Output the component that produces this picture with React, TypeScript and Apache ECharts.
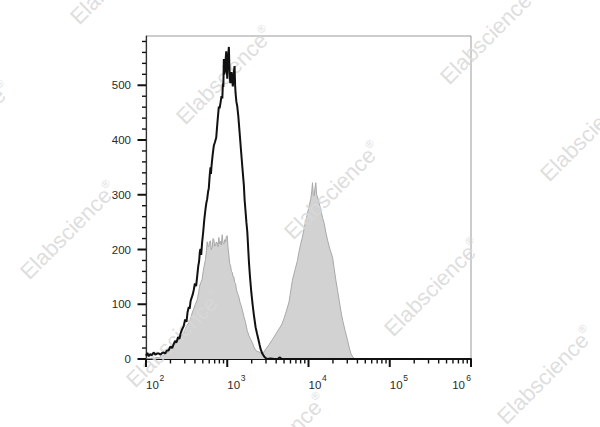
import React, { useEffect, useRef } from "react";
import * as echarts from "echarts";

// Tick values
const xMajorTicks = [100, 1000, 10000, 100000, 1000000];
const xMinorTicks = [
  200, 300, 400, 500, 600, 700, 800, 900,
  2000, 3000, 4000, 5000, 6000, 7000, 8000, 9000,
  20000, 30000, 40000, 50000, 60000, 70000, 80000, 90000,
  200000, 300000, 400000, 500000, 600000, 700000, 800000, 900000,
];
const yMajorTicks = [0, 100, 200, 300, 400, 500];
const yMinorTicks = [
  20, 40, 60, 80, 120, 140, 160, 180, 220, 240, 260, 280,
  320, 340, 360, 380, 420, 440, 460, 480, 520, 540, 560, 580,
];

// Black outline histogram
const outlineX = [
  100, 104, 108, 113, 118, 124, 130, 137, 144, 151, 158, 165, 172, 180, 190, 200,
  210, 219, 228, 237, 248, 258, 267, 278, 291, 303, 315, 325, 336, 345, 354, 365,
  376, 387, 400, 414, 427, 440, 450, 460, 468, 478, 490, 506, 522, 540, 553, 566,
  580, 593, 608, 622, 630, 640, 660, 684, 705, 731, 760, 788, 805, 826, 850, 870,
  883, 895, 908, 920, 933, 950, 960, 972, 986, 1000, 1015, 1030, 1047, 1060, 1075,
  1090, 1110, 1130, 1150, 1172, 1200, 1230, 1250, 1265, 1295, 1327, 1367, 1419,
  1470, 1531, 1600, 1637, 1683, 1720, 1766, 1849, 1910, 1977, 2050, 2128, 2234,
  2320, 2415, 2500, 2576, 2700, 2831, 2950, 3119, 3400, 3800, 4200, 4400, 4700,
  6000, 10000, 100000, 1000000,
];
const outlineCounts = [
  6, 11, 5, 9, 7, 12, 8, 10, 10, 8, 11, 12, 10, 15, 16, 23,
  20, 27, 33, 30, 40, 37, 47, 54, 60, 72, 68, 86, 95, 92, 106, 112,
  118, 126, 138, 133, 152, 170, 178, 196, 201, 190, 212, 232, 255, 274, 285, 292,
  305, 312, 335, 350, 338, 352, 372, 390, 396, 404, 435, 461, 458, 468, 480, 476,
  503, 497, 548, 520, 524, 540, 552, 562, 530, 512, 545, 556, 570, 540, 515,
  504, 520, 524, 508, 498, 520, 535, 500, 486, 470, 462, 444, 414,
  385, 352, 318, 290, 268, 250, 232, 177, 148, 122, 100, 80, 58,
  47, 36, 26, 18, 10, 5, 2, 0, 1, 0, 0, 3, 0,
  0, 0, 0, 0,
];

// Gray filled histogram
const filledX = [
  100, 110, 120, 130, 137, 145, 150, 160, 170, 181, 190, 200, 210, 219, 230, 242,
  253, 265, 278, 291, 305, 321, 336, 352, 370, 387, 405, 427, 445, 460, 475, 491,
  505, 520, 540, 555, 566, 580, 593, 605, 622, 635, 653, 668, 684, 700, 718, 735,
  753, 770, 788, 805, 826, 845, 867, 885, 908, 930, 953, 975, 1000, 1020, 1047,
  1070, 1099, 1125, 1153, 1180, 1205, 1235, 1265, 1300, 1340, 1390, 1440, 1480,
  1531, 1600, 1683, 1760, 1849, 1940, 2037, 2130, 2234, 2340, 2455, 2580, 2704,
  2830, 2972, 3110, 3266, 3500, 3761, 4050, 4333, 4650, 4995, 5350, 5754, 6050,
  6339, 6800, 7311, 7650, 8035, 8400, 8831, 9250, 9727, 10200, 10670, 10950,
  11200, 11450, 11720, 12000, 12300, 12600, 12910, 13500, 14190, 14900, 15600,
  16300, 17170, 18400, 19770, 20700, 21720, 22800, 23880, 25000, 26300, 28200,
  30270, 31800, 33270, 35000, 36560, 40000, 50000, 60000, 1000000,
];
const filledCounts = [
  0, 1, 0, 2, 3, 2, 4, 6, 8, 10, 14, 18, 20, 23, 28, 31,
  35, 40, 43, 47, 55, 62, 66, 72, 84, 92, 100, 108, 122, 135, 140, 146,
  160, 170, 182, 198, 214, 205, 206, 214, 216, 200, 204, 220, 218, 206, 208, 214,
  212, 205, 222, 210, 215, 208, 227, 212, 210, 218, 214, 224, 225, 205, 190,
  175, 170, 160, 158, 150, 150, 140, 138, 126, 120, 113, 103, 98,
  90, 78, 66, 52, 43, 36, 30, 22, 16, 14, 13, 11, 10,
  13, 18, 22, 26, 33, 40, 48, 55, 62, 74, 88, 104, 125,
  144, 162, 180, 196, 211, 222, 238, 252, 266, 280, 293, 305,
  322, 300, 298, 312, 322, 300, 296, 285, 272, 258, 248,
  232, 217, 200, 186, 165, 144, 125, 107, 88, 71, 52,
  34, 20, 10, 4, 1, 0, 1, 0, 0,
];

const FONT = "Liberation Sans, Arial, sans-serif";

const watermarkSpots = [
  [118, -25], [224, 75], [332, 190], [432, 287], [545, 375],
  [-38, 130], [68, 230], [174, 338], [278, 442],
  [488, 35], [588, 132],
];

export default function App() {
  const ref = useRef<HTMLDivElement>(null);

  useEffect(() => {
    document.body.style.margin = "0";
    if (!ref.current) return;
    const chart = echarts.init(ref.current, undefined, { renderer: "svg" });

    const outlineData = outlineX.map((x, i) => [x, outlineCounts[i]]);
    const filledData = filledX.map((x, i) => [x, filledCounts[i]]);
    const xTickData = [
      ...xMajorTicks.map((v) => [v, 0, 1]),
      ...xMinorTicks.map((v) => [v, 0, 0]),
    ];
    const yTickData = [
      ...yMajorTicks.map((v) => [100, v, 1]),
      ...yMinorTicks.map((v) => [100, v, 0]),
    ];

    const wmColor = "#d8d8d8";
    const watermarks = watermarkSpots.map(([x, y]) => ({
      type: "text",
      x,
      y,
      rotation: Math.PI / 4,
      z: 3,
      silent: true,
      style: {
        text: "{a|Elabscience}{r|®}",
        align: "center",
        verticalAlign: "middle",
        fill: wmColor,
        opacity: 0.85,
        rich: {
          a: { fontSize: 22, fontFamily: FONT, fill: wmColor, lineHeight: 24, verticalAlign: "bottom" },
          r: { fontSize: 11, fontFamily: FONT, fill: wmColor, lineHeight: 12, verticalAlign: "top" },
        },
      },
    }));

    const baseAxis = {
      type: "log",
      logBase: 10,
      min: 100,
      max: 1000000,
      position: "bottom",
      axisTick: { show: false },
      minorTick: { show: false },
      splitLine: { show: false },
    };

    const option: any = {
      animation: false,
      backgroundColor: "#ffffff",
      grid: {
        left: 146,
        right: 129,
        top: 36,
        bottom: 68,
        show: true,
        borderColor: "#9a9a9a",
        borderWidth: 1,
        backgroundColor: "transparent",
      },
      xAxis: [
        {
          ...baseAxis,
          axisLine: { show: true, lineStyle: { color: "#111", width: 2 } },
          axisLabel: {
            margin: 19.5,
            align: "left",
            alignMaxLabel: "right",
            padding: [0, 6, 0, 0],
            fontSize: 11.5,
            fontFamily: FONT,
            color: "#2a2a2a",
            formatter: () => "10",
          },
        },
        {
          ...baseAxis,
          axisLine: { show: false },
          axisLabel: {
            margin: 14,
            align: "left",
            alignMaxLabel: "right",
            padding: [0, 0, 0, 13.5],
            fontSize: 8.5,
            fontFamily: FONT,
            color: "#2a2a2a",
            formatter: (value: number) => String(Math.round(Math.log10(value))),
          },
        },
      ],
      yAxis: {
        type: "value",
        min: 0,
        max: 590,
        interval: 100,
        axisLine: { show: true, lineStyle: { color: "#333", width: 1.2 } },
        axisTick: { show: false },
        minorTick: { show: false },
        splitLine: { show: false },
        axisLabel: {
          margin: 15,
          fontSize: 11.5,
          fontFamily: FONT,
          color: "#2a2a2a",
          showMaxLabel: false,
          formatter: (v: number) => (v % 100 === 0 ? String(v) : ""),
        },
      },
      series: [
        {
          type: "line",
          data: filledData,
          showSymbol: false,
          symbol: "none",
          z: 2,
          lineStyle: { color: "#a8a8a8", width: 1 },
          areaStyle: { color: "#d2d2d2", opacity: 1 },
          silent: true,
        },
        {
          type: "line",
          data: outlineData,
          showSymbol: false,
          symbol: "none",
          z: 4,
          lineStyle: { color: "#111", width: 2 },
          silent: true,
        },
        {
          type: "custom",
          coordinateSystem: "cartesian2d",
          clip: false,
          silent: true,
          z: 6,
          data: xTickData,
          renderItem: (_p: any, api: any) => {
            const pt = api.coord([api.value(0), api.value(1)]);
            const major = api.value(2) === 1;
            return {
              type: "line",
              shape: { x1: pt[0], y1: pt[1], x2: pt[0], y2: pt[1] + (major ? 8 : 4.5) },
              style: { stroke: "#111", lineWidth: major ? 2 : 1.4 },
            };
          },
        },
        {
          type: "custom",
          coordinateSystem: "cartesian2d",
          clip: false,
          silent: true,
          z: 6,
          data: yTickData,
          renderItem: (_p: any, api: any) => {
            const pt = api.coord([api.value(0), api.value(1)]);
            const major = api.value(2) === 1;
            return {
              type: "line",
              shape: { x1: pt[0] - (major ? 8.5 : 4), y1: pt[1], x2: pt[0], y2: pt[1] },
              style: { stroke: "#111", lineWidth: major ? 2 : 1.4 },
            };
          },
        },
      ],
      graphic: watermarks,
    };

    chart.setOption(option);
    return () => chart.dispose();
  }, []);

  return <div ref={ref} style={{ width: 600, height: 427 }} />;
}
